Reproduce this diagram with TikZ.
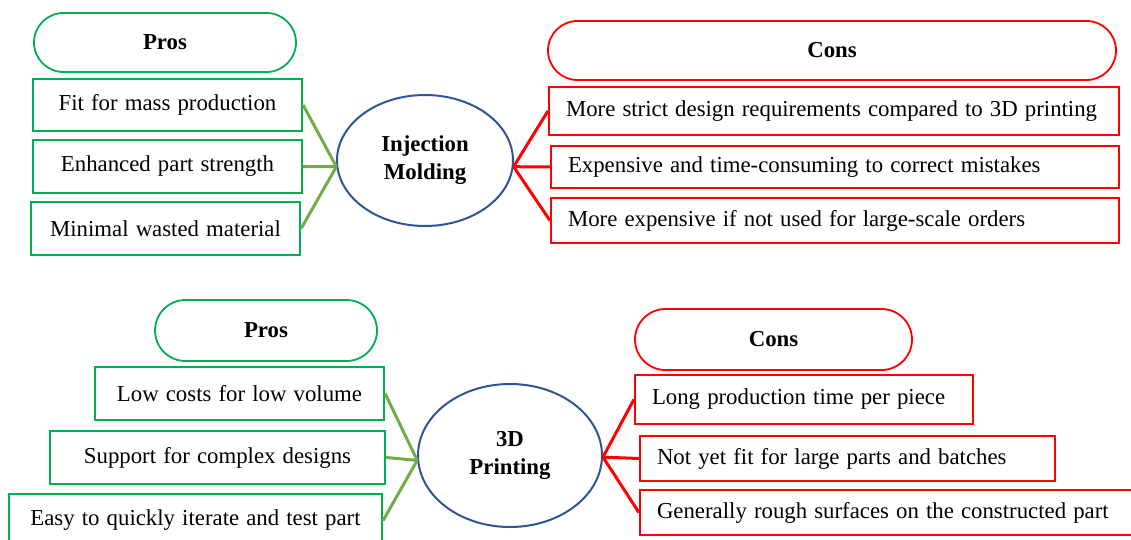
\documentclass[tikz,border=0pt]{standalone}
\usepackage{fontspec}
\setmainfont[WordSpace=1.25]{Liberation Serif}
\usetikzlibrary{shapes.misc,shapes.geometric}
\definecolor{proGreen}{HTML}{00B050}
\definecolor{linkGreen}{HTML}{70AD47}
\definecolor{hubBlue}{HTML}{2F5597}
\begin{document}
\begin{tikzpicture}[x=1pt,y=-1pt,
  every node/.style={font=\fontsize{22.8}{28}\selectfont, inner sep=0pt},
  pill/.style={rounded rectangle, draw=#1, line width=1.8pt, font=\fontsize{22.8}{28}\selectfont\bfseries},
  probox/.style={rectangle, draw=proGreen, line width=2.2pt, align=center},
  conbox/.style={rectangle, draw=red, line width=2.2pt, inner xsep=17pt, align=flush left},
  hub/.style={ellipse, draw=hubBlue, line width=2pt, align=center, font=\fontsize{22.8}{28}\selectfont\bfseries},
  prolink/.style={draw=linkGreen, line width=3pt},
  conlink/.style={draw=red, line width=3pt}]
\clip (0,0) rectangle (1131,540);
\node[pill=proGreen, minimum width=262pt, minimum height=59pt] (prosI) at (165,42.5) {Pros};
\node[pill=red, minimum width=568pt, minimum height=59pt] (consI) at (832,50.5) {Cons};
\node[probox, minimum width=269pt, minimum height=52pt] (proI1) at (167.5,105) {Fit for mass production};
\node[probox, minimum width=269pt, minimum height=53pt] (proI2) at (167.5,166.5) {Enhanced part strength};
\node[probox, minimum width=269pt, minimum height=53pt] (proI3) at (165.5,228.5) {Minimal wasted material};
\node[hub, minimum width=176pt, minimum height=131pt] (hubI) at (425,160.5) {Injection\\Molding};
\node[conbox, text width=536pt, minimum height=48pt] (conI1) at (834,111) {More strict design requirements compared to 3D printing};
\node[conbox, text width=534pt, minimum height=42pt] (conI2) at (835,167) {Expensive and time-consuming to correct mistakes};
\node[conbox, text width=534pt, minimum height=45pt] (conI3) at (835,220.5) {More expensive if not used for large-scale orders};
\draw[prolink] (proI1.east) -- (hubI.184);
\draw[prolink] (proI2.east) -- (hubI.184);
\draw[prolink] (proI3.east) -- (hubI.184);
\draw[conlink] (hubI.-4) -- (conI1.west);
\draw[conlink] (hubI.-4) -- (conI2.west);
\draw[conlink] (hubI.-4) -- (conI3.west);
\node[pill=proGreen, minimum width=222pt, minimum height=61pt] (prosP) at (266,330.5) {Pros};
\node[pill=red, minimum width=277pt, minimum height=61pt] (consP) at (773.5,339.5) {Cons};
\node[probox, minimum width=289pt, minimum height=53pt] (proP1) at (239.5,393.5) {Low costs for low volume};
\node[probox, minimum width=335pt, minimum height=53pt] (proP2) at (217.5,457.5) {Support for complex designs};
\node[probox, minimum width=373pt, minimum height=53pt] (proP3) at (195.5,520.5) {Easy to quickly iterate and test part};
\node[hub, minimum width=184pt, minimum height=143pt] (hubP) at (510,455.5) {3D\\Printing};
\node[conbox, text width=304pt, minimum height=49pt] (conP1) at (804,399.5) {Long production time per piece};
\node[conbox, text width=381pt, minimum height=45pt] (conP2) at (847.5,458.5) {Not yet fit for large parts and batches};
\node[conbox, text width=466pt, minimum height=45pt] (conP3) at (890,512.5) {Generally rough surfaces on the constructed part};
\draw[prolink] (proP1.east) -- (hubP.183);
\draw[prolink] (proP2.east) -- (hubP.183);
\draw[prolink] (proP3.east) -- (hubP.183);
\draw[conlink] (hubP.-1) -- (conP1.west);
\draw[conlink] (hubP.-1) -- (conP2.west);
\draw[conlink] (hubP.-1) -- (conP3.west);
\end{tikzpicture}
\end{document}
